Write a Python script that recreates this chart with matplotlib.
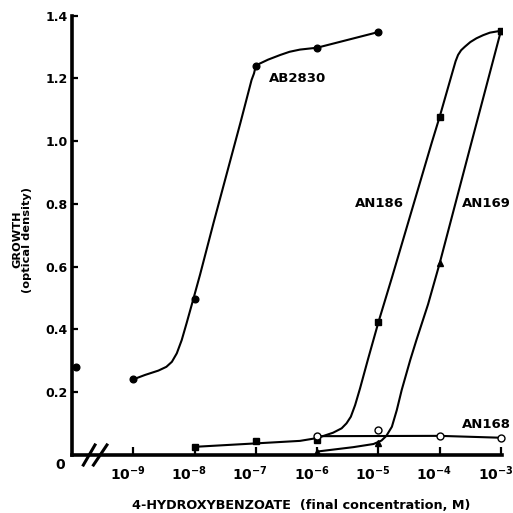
import matplotlib
matplotlib.use('Agg')
import matplotlib.pyplot as plt
from matplotlib.transforms import ScaledTranslation

plt.rcParams['font.family'] = 'DejaVu Sans'
plt.rcParams['font.weight'] = 'bold'
plt.rcParams['axes.labelweight'] = 'bold'
plt.rcParams['mathtext.default'] = 'bf'

# x values are log10 of the molar concentration
decades = [-9, -8, -7, -6, -5, -4, -3]
decade_labels = [r'$10^{-9}$', r'$10^{-8}$', r'$10^{-7}$', r'$10^{-6}$',
                 r'$10^{-5}$', r'$10^{-4}$', r'$10^{-3}$']
growth_ticks = [0.2, 0.4, 0.6, 0.8, 1.0, 1.2, 1.4]
growth_labels = ['0.2', '0.4', '0.6', '0.8', '1.0', '1.2', '1.4']

# AB2830 (filled circles)
ab2830_x = [-9, -8, -7, -6, -5]
ab2830_y = [0.241, 0.497, 1.241, 1.298, 1.348]
ab2830_zero_x = [-9.935]   # no 4-hydroxybenzoate, drawn on the broken axis
ab2830_zero_y = [0.281]
ab2830_curve_x = [-9.0, -8.81, -8.59, -8.46, -8.37, -8.29, -8.21, -8.13, -8.02, -7.91,
                  -7.69, -7.25, -7.07, -7.03, -7.0, -6.93, -6.80, -6.60, -6.45, -6.28,
                  -6.0, -5.0]
ab2830_curve_y = [0.241, 0.255, 0.269, 0.281, 0.297, 0.324, 0.366, 0.420, 0.497, 0.575,
                  0.740, 1.060, 1.195, 1.216, 1.241, 1.248, 1.260, 1.275, 1.285, 1.292,
                  1.298, 1.348]

# AN186 (filled squares)
an186_x = [-8, -7, -6, -5, -4, -3]
an186_y = [0.026, 0.046, 0.048, 0.423, 1.078, 1.352]
an186_curve_x = [-8.0, -7.0, -6.28, -6.0, -5.74, -5.60, -5.52, -5.45, -5.38, -5.30,
                 -5.17, -5.0, -4.78, -4.13, -4.0, -3.89, -3.78, -3.74, -3.70, -3.65,
                 -3.59, -3.50, -3.40, -3.29, -3.18, -3.0]
an186_curve_y = [0.026, 0.037, 0.045, 0.054, 0.071, 0.085, 0.101, 0.122, 0.159, 0.212,
                 0.305, 0.423, 0.565, 0.995, 1.078, 1.153, 1.228, 1.255, 1.275, 1.290,
                 1.301, 1.316, 1.328, 1.338, 1.346, 1.352]

# AN169 (filled triangles)
an169_x = [-6, -5, -4, -3]
an169_y = [0.011, 0.039, 0.611, 1.352]
an169_curve_x = [-6.0, -5.41, -5.08, -4.95, -4.87, -4.78, -4.70, -4.62, -4.48, -4.38,
                 -4.19, -4.0, -3.48, -3.0]
an169_curve_y = [0.011, 0.025, 0.035, 0.046, 0.061, 0.090, 0.143, 0.207, 0.303, 0.366,
                 0.480, 0.611, 0.997, 1.352]

# AN168 (open circles)
an168_x = [-6, -5, -4, -3]
an168_y = [0.061, 0.080, 0.062, 0.055]
an168_line_x = [-6, -4, -3]
an168_line_y = [0.060, 0.061, 0.055]

fig = plt.figure(figsize=(5.13, 5.13), dpi=100)
ax = fig.add_axes([72 / 513, 58 / 513, 430 / 513, 439.3 / 513])

lw = 1.5
for cx, cy in [(ab2830_curve_x, ab2830_curve_y), (an186_curve_x, an186_curve_y),
               (an169_curve_x, an169_curve_y), (an168_line_x, an168_line_y)]:
    ax.plot(cx, cy, color='black', lw=lw, solid_joinstyle='round')

ax.plot(ab2830_x, ab2830_y, 'o', color='black', ms=4.8, zorder=3)
ax.plot(ab2830_zero_x, ab2830_zero_y, 'o', color='black', ms=4.8, zorder=3, clip_on=False)
ax.plot(an186_x, an186_y, 's', color='black', ms=3.8, zorder=3)
ax.plot(an169_x, an169_y, '^', color='black', ms=3.8, zorder=3)
ax.plot(an168_x, an168_y, 'o', mfc='white', mec='black', mew=1.0, ms=5, zorder=4,
        clip_on=False)

# curve labels
ax.text(-6.79, 1.201, 'AB2830', fontsize=9.5, ha='left', va='center')
ax.text(-5.38, 0.803, 'AN186', fontsize=9.5, ha='left', va='center')
ax.text(-3.64, 0.803, 'AN169', fontsize=9.5, ha='left', va='center')
ax.text(-3.64, 0.096, 'AN168', fontsize=9.5, ha='left', va='center')

ax.set_xlim(-10, -2.983)
ax.set_ylim(0, 1.4)

for side in ['top', 'right']:
    ax.spines[side].set_visible(False)
for side in ['left', 'bottom']:
    ax.spines[side].set_linewidth(2.6)

ax.set_xticks(decades)
ax.set_xticklabels(decade_labels, fontsize=10)
ax.set_yticks(growth_ticks)
ax.set_yticklabels(growth_labels, fontsize=9)
ax.tick_params(axis='x', direction='in', length=6, width=1.6, pad=7)
ax.tick_params(axis='y', direction='in', length=4.5, width=1.6, pad=3)
shift = ScaledTranslation(-4 / 72, 0, fig.dpi_scale_trans)
for lab in ax.get_xticklabels():
    lab.set_transform(lab.get_transform() + shift)

# zero of both axes and the axis break
ax.text(-10.196, -0.032, '0', fontsize=10, ha='center', va='center')
ax.plot([-9.815, -9.625], [-0.032, 0.032], color='black', lw=2.2, clip_on=False)
ax.plot([-9.65, -9.43], [-0.032, 0.032], color='black', lw=2.2, clip_on=False)

ax.set_xlabel('4-HYDROXYBENZOATE  (final concentration, M)', fontsize=9.2)
ax.xaxis.label.set_va('center')
ax.xaxis.set_label_coords(0.533, -0.114)
ax.set_ylabel('GROWTH\n(optical density)', fontsize=8.2, multialignment='center',
              linespacing=1.0)
ax.yaxis.label.set_va('center')
ax.yaxis.set_label_coords(-0.116, 0.49)

fig.savefig('out.png', dpi=100)
